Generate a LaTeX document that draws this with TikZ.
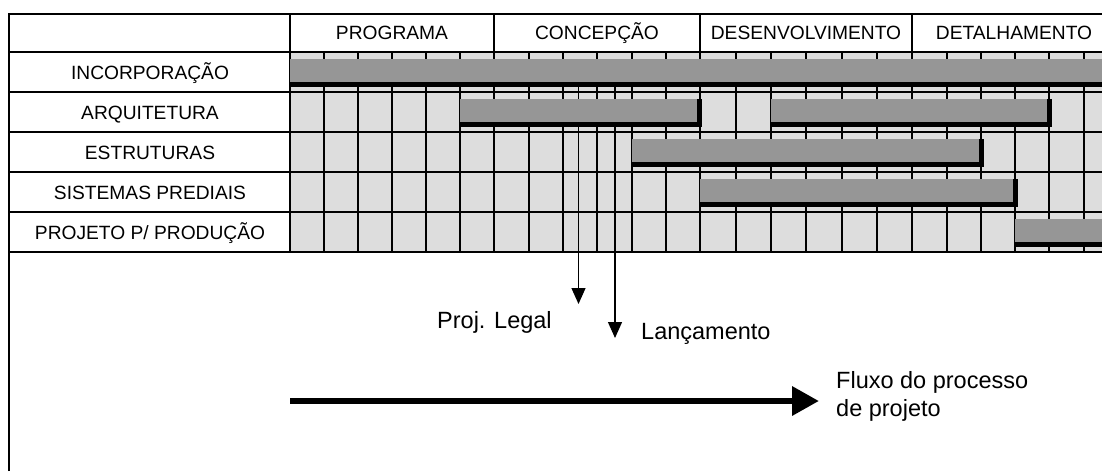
\documentclass[tikz,border=0pt]{standalone}
\usepackage{fontspec}
\setmainfont{Liberation Sans}
\usetikzlibrary{arrows.meta}
\definecolor{cellgray}{HTML}{DDDDDD}
\definecolor{bargray}{HTML}{969696}
\begin{document}
\begin{tikzpicture}[x=1pt,y=-1pt,
  gridline/.style={line width=2.2pt,black},
  thinline/.style={line width=1.2pt,black},
  frameline/.style={line width=2pt,black},
  tabtext/.style={font=\fontsize{19.2}{23}\selectfont,inner sep=0pt,anchor=base},
  lowtext/.style={font=\fontsize{23.5}{28}\selectfont,inner sep=0pt,anchor=base west},
  milestone/.style={line width=1.3pt,black,-{Triangle[length=16pt,width=14pt]}},
  flow/.style={line width=6.4pt,black,-{Triangle[length=27pt,width=28pt]}}
]
\useasboundingbox (0,0) rectangle (1102,471);
\clip (0,0) rectangle (1102,471);
\fill[white] (0,0) rectangle (1102,471);
% cells
\fill[cellgray] (290,52) rectangle (1102,252);
% milestone connectors (behind bars)
\coordinate (pl-top) at (578.5,84);
\coordinate (pl-tip) at (578.5,304);
\coordinate (la-top) at (615,84);
\coordinate (la-tip) at (615,338);
\draw[milestone] (pl-top) -- (pl-tip);
\draw[milestone] (la-top) -- (la-tip);
% grid
\foreach \x in {324,358,392,426,460,494,529,563,597,632,666,700,736,771,806,842,877,912,947,981,1015,1049,1084}
  \draw[gridline] (\x,52) -- (\x,252);
\foreach \y in {52,92,132,172,212,252}
  \draw[gridline] (290,\y) -- (1102,\y);
\foreach \y in {52,92,132,172,212,252}
  \draw[thinline] (9,\y) -- (290,\y);
% frame and header
\draw[frameline] (9,471) -- (9,14) -- (1102,14);
\draw[line width=2.6pt] (290,14) -- (290,252);
\foreach \x in {494,700,912}
  \draw[frameline] (\x,14) -- (\x,52);
% bars
\foreach \a/\b/\t in {290/1110/52, 460/697/92, 771/1047/92, 632/979/132, 700/1013/172, 1015/1110/212} {
  \fill[black] (\a,\t+7) rectangle (\b+5,\t+35);
  \fill[bargray] (\a,\t+7) rectangle (\b,\t+30);
}
% header texts
\node[tabtext] (h1) at (392,39.3) {PROGRAMA};
\node[tabtext] (h2) at (597,39.3) {CONCEPÇÃO};
\node[tabtext] (h3) at (806,39.3) {DESENVOLVIMENTO};
\node[tabtext] (h4) at (1014,39.3) {DETALHAMENTO};
% row labels
\node[tabtext] (r1) at (150,79) {INCORPORAÇÃO};
\node[tabtext] (r2) at (150,119) {ARQUITETURA};
\node[tabtext] (r3) at (150,159) {ESTRUTURAS};
\node[tabtext] (r4) at (150,199) {SISTEMAS PREDIAIS};
\node[tabtext] (r5) at (150,239) {PROJETO P/ PRODUÇÃO};
% lower texts
\node[lowtext] (pl) at (437,328) {Proj. Legal};
\node[lowtext] (la) at (641,339) {Lançamento};
\node[lowtext] (fx1) at (836,388) {Fluxo do processo};
\node[lowtext] (fx2) at (836,416) {de projeto};
% flow arrow
\coordinate (f0) at (290,401);
\coordinate (f1) at (819,401);
\draw[flow] (f0) -- (f1);
\end{tikzpicture}
\end{document}
